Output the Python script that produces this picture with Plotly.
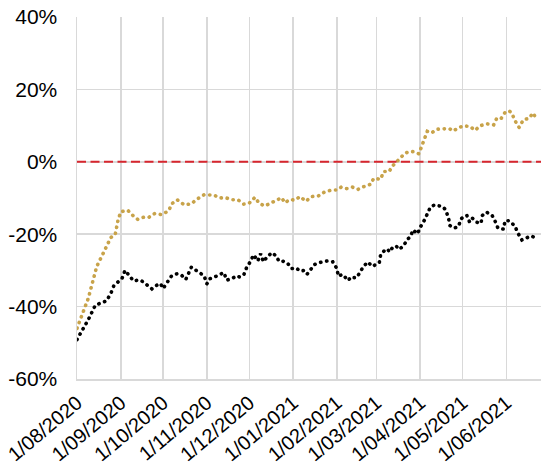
import plotly.graph_objects as go

# ---- data (percent) ----
gold_dates = ["2020-08-01","2020-08-09","2020-08-15","2020-08-20","2020-08-25","2020-08-28","2020-08-29","2020-08-30",
              "2020-09-01","2020-09-06","2020-09-10","2020-09-13","2020-09-18","2020-09-21","2020-09-25","2020-09-30",
              "2020-10-05","2020-10-07","2020-10-11","2020-10-16","2020-10-21","2020-10-25","2020-10-30",
              "2020-11-02","2020-11-06","2020-11-10","2020-11-14","2020-11-19","2020-11-23","2020-11-27",
              "2020-12-01","2020-12-05","2020-12-08","2020-12-12","2020-12-16","2020-12-20","2020-12-24","2020-12-26","2020-12-30",
              "2021-01-02","2021-01-06","2021-01-10","2021-01-14","2021-01-19","2021-01-23","2021-01-28",
              "2021-02-01","2021-02-04","2021-02-08","2021-02-12","2021-02-16","2021-02-21","2021-02-25","2021-02-27",
              "2021-03-04","2021-03-06","2021-03-10","2021-03-12","2021-03-15","2021-03-18","2021-03-21","2021-03-24","2021-03-27","2021-03-31",
              "2021-04-02","2021-04-04","2021-04-06","2021-04-09","2021-04-13","2021-04-17","2021-04-19","2021-04-22","2021-04-24","2021-04-27",
              "2021-05-01","2021-05-06","2021-05-10","2021-05-13","2021-05-18","2021-05-23","2021-05-25","2021-05-28","2021-05-31",
              "2021-06-03","2021-06-05","2021-06-07","2021-06-10","2021-06-13","2021-06-17","2021-06-20","2021-06-21","2021-06-24"]
gold_values = [-46.0,-37.7,-28.9,-24.8,-20.9,-20.2,-18.0,-16.2,
               -13.8,-13.4,-15.0,-15.9,-15.2,-15.3,-14.3,-14.6,
               -13.5,-11.6,-10.5,-11.9,-11.6,-10.3,-9.1,
               -9.1,-9.2,-10.0,-9.9,-10.5,-10.5,-11.7,
               -11.4,-9.8,-11.5,-12.2,-11.5,-10.8,-9.9,-11.3,-10.4,
               -10.6,-9.6,-10.9,-9.6,-9.4,-8.4,-7.8,
               -7.8,-7.0,-7.4,-7.0,-7.6,-6.7,-6.2,-4.6,
               -4.8,-2.7,-2.7,-1.3,0.0,1.0,2.3,2.8,2.8,2.2,
               4.1,6.2,8.4,8.0,9.0,9.1,9.0,9.1,8.5,9.1,
               9.9,9.8,8.7,9.9,10.5,10.2,11.9,11.8,13.6,
               14.1,13.3,11.4,9.5,11.6,12.0,13.5,12.7,13.4]

black_dates = ["2020-08-01","2020-08-09","2020-08-14","2020-08-18","2020-08-22","2020-08-25","2020-08-27","2020-08-30",
               "2020-09-02","2020-09-04","2020-09-07","2020-09-10","2020-09-13","2020-09-15","2020-09-18","2020-09-21","2020-09-23","2020-09-26","2020-09-29",
               "2020-10-01","2020-10-04","2020-10-07","2020-10-11","2020-10-14","2020-10-17","2020-10-21","2020-10-24","2020-10-27","2020-10-30",
               "2020-11-01","2020-11-03","2020-11-06","2020-11-10","2020-11-13","2020-11-15","2020-11-19","2020-11-22","2020-11-24","2020-11-27","2020-11-29",
               "2020-12-02","2020-12-04","2020-12-07","2020-12-09","2020-12-11","2020-12-14","2020-12-17","2020-12-20","2020-12-22","2020-12-25","2020-12-28","2020-12-31",
               "2021-01-03","2021-01-06","2021-01-09","2021-01-11","2021-01-13","2021-01-16","2021-01-20","2021-01-23","2021-01-25","2021-01-29",
               "2021-02-01","2021-02-02","2021-02-05","2021-02-09","2021-02-11","2021-02-13","2021-02-15","2021-02-18","2021-02-20","2021-02-23","2021-02-26",
               "2021-03-03","2021-03-04","2021-03-07","2021-03-09","2021-03-10","2021-03-13","2021-03-15","2021-03-17","2021-03-20","2021-03-23","2021-03-25","2021-03-27","2021-03-30",
               "2021-04-01","2021-04-04","2021-04-06","2021-04-08","2021-04-11","2021-04-14","2021-04-17","2021-04-19","2021-04-21","2021-04-22","2021-04-25","2021-04-28","2021-04-30",
               "2021-05-04","2021-05-06","2021-05-08","2021-05-11","2021-05-14","2021-05-15","2021-05-18","2021-05-22","2021-05-24","2021-05-26","2021-05-30","2021-05-31",
               "2021-06-03","2021-06-07","2021-06-09","2021-06-12","2021-06-16","2021-06-19","2021-06-21","2021-06-23"]
black_values = [-49.1,-43.6,-39.6,-38.9,-38.4,-36.3,-34.3,-33.2,
                -32.1,-30.0,-31.4,-32.9,-32.7,-32.7,-33.5,-34.4,-35.1,-34.2,-33.6,
                -35.0,-33.3,-31.5,-30.9,-31.3,-32.5,-29.1,-29.9,-30.6,-31.5,
                -33.7,-32.3,-31.9,-31.0,-30.6,-32.7,-32.2,-31.5,-31.8,-31.3,-29.3,
                -27.4,-25.7,-27.4,-25.4,-27.6,-26.1,-25.1,-26.0,-27.5,-27.5,-28.0,-29.5,
                -29.3,-30.2,-30.0,-31.0,-30.0,-28.4,-27.8,-27.6,-27.4,-27.6,
                -29.5,-31.6,-31.1,-32.8,-31.8,-32.0,-32.0,-30.1,-28.8,-27.7,-28.9,
                -27.9,-25.6,-24.4,-24.1,-24.9,-23.4,-23.3,-24.2,-23.3,-21.4,-20.7,-18.8,-19.9,
                -18.1,-16.1,-14.6,-12.7,-11.9,-12.1,-12.4,-13.3,-15.5,-17.6,-18.3,-17.9,-15.7,
                -14.8,-16.7,-15.6,-16.7,-17.0,-14.8,-13.9,-14.9,-16.4,-18.3,-18.6,-16.3,
                -16.3,-17.7,-19.6,-21.6,-20.9,-20.5,-21.0,-21.0]

x_tick_vals = ["2020-08-01","2020-09-01","2020-10-01","2020-11-01","2020-12-01","2021-01-01",
               "2021-02-01","2021-03-01","2021-04-01","2021-05-01","2021-06-01"]
x_tick_text = ["1/08/2020","1/09/2020","1/10/2020","1/11/2020","1/12/2020","1/01/2021",
               "1/02/2021","1/03/2021","1/04/2021","1/05/2021","1/06/2021"]
y_tick_vals = [-60, -40, -20, 0, 20, 40]
y_tick_text = ["-60%", "-40%", "-20%", "0%", "20%", "40%"]

GOLD = "#C8A34A"
GRID = "#D9D9D9"
DOTS = "0.3px,5.8px"

fig = go.Figure()
fig.add_trace(go.Scatter(x=gold_dates, y=gold_values, mode="lines",
                         line=dict(color=GOLD, width=3.6, dash=DOTS),
                         hoverinfo="skip"))
fig.add_trace(go.Scatter(x=black_dates, y=black_values, mode="lines",
                         line=dict(color="#000000", width=3.6, dash=DOTS),
                         hoverinfo="skip"))
fig.add_hline(y=0, line=dict(color="#D7262E", width=2, dash="9px,4.5px"))

fig.update_layout(
    width=545, height=465,
    margin=dict(l=77, r=4, t=17, b=86),
    paper_bgcolor="white", plot_bgcolor="white",
    showlegend=False,
    font=dict(family="Liberation Sans, Arial, sans-serif", size=21, color="#000000"),
    xaxis=dict(range=["2020-08-01", "2021-06-25 12:00"], tickvals=x_tick_vals, ticktext=x_tick_text,
               tickangle=-40, tickfont=dict(size=20),
               showgrid=True, gridcolor=GRID, gridwidth=1.5, automargin=False,
               showline=True, linecolor=GRID, linewidth=1.5, zeroline=False, ticks="",
               ticklabelstandoff=3, ticklabeloverflow="allow"),
    yaxis=dict(range=[-60, 40], tickvals=y_tick_vals, ticktext=y_tick_text, automargin=False,
               showgrid=True, gridcolor=GRID, gridwidth=1.5,
               showline=True, linecolor=GRID, linewidth=1.5, zeroline=False,
               ticks="", ticklabelstandoff=14, ticklabeloverflow="allow"),
)

post = ("document.body.style.margin='0';"
        "var s=document.createElement('style');"
        "s.innerHTML='body{margin:0;} .scatterlayer .js-line{stroke-linecap:round !important;}';"
        "document.head.appendChild(s);")
fig.write_html("out.html", post_script=post, config={"displayModeBar": False, "staticPlot": True})
